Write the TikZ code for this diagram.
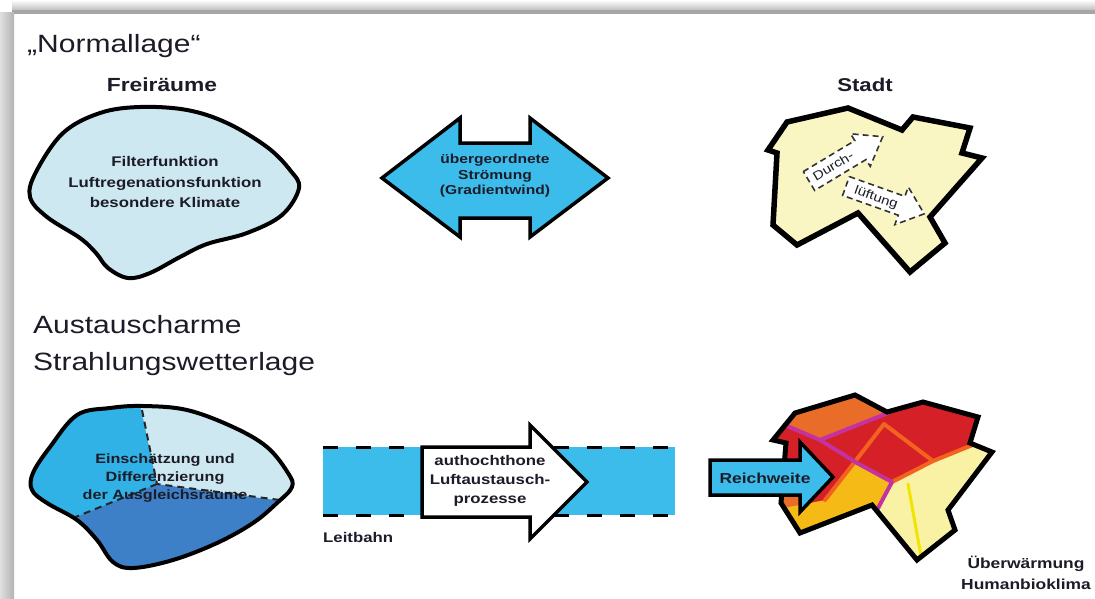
\documentclass[tikz,border=0pt]{standalone}
\usepackage{fontspec}
\setmainfont[FakeStretch=1.2]{Liberation Sans}
\definecolor{ink}{RGB}{28,28,40}
\definecolor{flow}{RGB}{60,188,234}
\definecolor{palecyan}{RGB}{206,232,241}
\definecolor{midblue}{RGB}{48,178,230}
\definecolor{deepblue}{RGB}{62,128,200}
\definecolor{cityyellow}{RGB}{250,246,196}
\definecolor{heatred}{RGB}{212,32,38}
\definecolor{heatorange}{RGB}{233,108,40}
\definecolor{heatgold}{RGB}{246,186,22}
\definecolor{heatpale}{RGB}{249,242,164}
\definecolor{streetorange}{RGB}{244,98,32}
\definecolor{streetmagenta}{RGB}{196,50,160}
\definecolor{streetyellow}{RGB}{240,228,0}

\begin{document}
\begin{tikzpicture}[x=1pt,y=-1pt,
    rim/.style={draw=black,line width=4pt,line join=round},
    outlined/.style={draw=black,line width=3.5pt,line join=miter},
    heading/.style={font=\fontsize{25}{37}\selectfont,text=ink,inner sep=0pt,anchor=base west},
    tag/.style={font=\bfseries\fontsize{14}{19}\selectfont,text=ink,align=center,inner sep=0pt},
    boundary/.style={draw=black!85,dash pattern=on 7pt off 5pt,line width=2pt},
    street/.style={line width=4pt,line cap=round,line join=round},
    airflow/.style={fill=white,draw=black!80,dash pattern=on 6pt off 4pt,line width=1.6pt},
    airtext/.style={text=ink,inner sep=0pt,font=\fontsize{12.5}{12.5}\selectfont}]
  \useasboundingbox (0,0) rectangle (1095,598);
  \fill[white] (0,0) rectangle (1095,598);
  \shade[top color=white,bottom color=gray!55] (12,0) rectangle (1095,11);
  \fill[gray!70] (12,10) rectangle (1095,14);
  \shade[left color=gray!25,right color=gray!60] (0,12) rectangle (14,598);

  \node[heading] (normallage) at (27,52) {„Normallage“};
  \node[tag,font=\bfseries\fontsize{19}{19}\selectfont] (freiraeume) at (162,85) {Freiräume};
  \filldraw[fill=palecyan,rim] plot[smooth cycle,tension=0.6] coordinates {
    (140,107) (187,110) (227,123) (267,147) (290,170) (299,188) (282,215)
    (247,233) (207,244) (180,257) (150,273) (128,278) (108,268) (96,253)
    (80,238) (47,217) (30,197) (36,172) (63,133) (100,113)};
  \node[tag,font=\bfseries\fontsize{14}{20.5}\selectfont] (filter) at (165,182)
    {Filterfunktion\\Luftregenationsfunktion\\besondere Klimate};

  \filldraw[fill=flow,outlined] (382,178) -- (460,118) -- (460,143) -- (530,143) -- (530,118)
    -- (608,178) -- (530,237) -- (530,218) -- (460,218) -- (460,237) -- cycle;
  \node[tag,font=\bfseries\fontsize{13}{15.5}\selectfont] (stroemung) at (495,176)
    {übergeordnete\\Strömung\\(Gradientwind)};

  \node[tag,font=\bfseries\fontsize{18.5}{18.5}\selectfont] (stadt) at (865,85) {Stadt};
  \filldraw[fill=cityyellow,outlined,line width=5.5pt] (787,122) -- (848,108) -- (902,130) -- (913,117)
    -- (970,128) -- (962,153) -- (982,158) -- (930,217) -- (945,243) -- (910,272)
    -- (858,213) -- (797,245) -- (773,225) -- (777,153) -- (768,150) -- cycle;
  \begin{scope}[shift={(809,181)},rotate=31]
    \filldraw[airflow] (0,-11) -- (60,-11) -- (60,-19) -- (86,0) -- (60,19) -- (60,11) -- (0,11) -- cycle;
  \end{scope}
  \begin{scope}[shift={(846,186)},rotate=-19.6]
    \filldraw[airflow] (0,-10) -- (59,-10) -- (59,-20) -- (83,0) -- (59,20) -- (59,10) -- (0,10) -- cycle;
  \end{scope}
  \node[airtext,rotate=31] (durch) at (833,166) {Durch-};
  \node[airtext,rotate=-19.6] (lueftung) at (876,198) {lüftung};

  \node[heading] (austausch) at (33,333) {Austauscharme};
  \node[heading] (strahlung) at (33,370) {Strahlungswetterlage};

  \filldraw[fill=deepblue,rim,path picture={
      \fill[midblue] (0,380) -- (135,380) -- (157,484) -- (0,548) -- cycle;
      \fill[palecyan] (135,380) -- (320,380) -- (320,506) -- (157,484) -- cycle;
      \draw[boundary] (142,410) -- (157,484) -- (280,500) (157,484) -- (73,518);
    }] plot[smooth cycle,tension=0.6] coordinates {
    (77,415) (110,408) (143,406) (187,410) (233,427) (267,447) (288,473)
    (292,487) (277,503) (253,523) (217,543) (173,560) (133,568) (113,562)
    (97,540) (77,520) (47,503) (32,490) (33,473) (50,447)};
  \node[tag,font=\bfseries\fontsize{13.5}{18}\selectfont] (ausgleich) at (165,478)
    {Einschätzung und\\Differenzierung\\der Ausgleichsräume};

  \fill[flow] (323,447) rectangle (675,515);
  \draw[line width=3pt,dash pattern=on 15pt off 18pt] (323,447) -- (675,447) (323,515) -- (675,515);
  \node[anchor=base west,inner sep=0pt,text=ink,font=\bfseries\fontsize{14}{14}\selectfont] (leitbahn) at (323,542) {Leitbahn};
  \filldraw[fill=white,outlined] (422,447) -- (530,447) -- (530,425) -- (587,482) -- (530,539)
    -- (530,517) -- (422,517) -- cycle;
  \node[tag] (luftaustausch) at (490,481) {authochthone\\Luftaustausch-\\prozesse};

  \filldraw[fill=heatred,outlined,line width=5pt,path picture={
      \fill[heatorange] (760,380) -- (888,380) -- (888,415) -- (820,440) -- (790,427) -- (760,425) -- cycle;
      \fill[heatorange] (760,495) -- (815,495) -- (800,506) -- (760,512) -- cycle;
      \fill[heatgold] (855,462) -- (892,482) -- (876,512) -- (870,600) -- (760,600) -- (760,512)
        -- (800,505) -- (825,500) -- cycle;
      \fill[heatpale] (892,482) -- (933,461) -- (1000,432) -- (1000,600) -- (870,600) -- (876,512) -- cycle;
      \draw[street,draw=streetorange] (884,424) -- (850,468) -- (825,500) (884,424) -- (933,461)
        (892,482) -- (933,461) -- (975,444);
      \draw[street,draw=streetmagenta] (780,423) -- (820,440) -- (888,413)
        (820,440) -- (857,463) -- (892,482) -- (876,512);
      \draw[street,draw=streetyellow,line width=3pt] (908,484) -- (921,556);
    }] (795,413) -- (855,395) -- (887,412) -- (923,402) -- (978,417) -- (970,443) -- (992,452)
    -- (948,510) -- (955,530) -- (917,560) -- (872,505) -- (800,533) -- (781,503) -- (786,443)
    -- (773,440) -- cycle;
  \filldraw[fill=flow,outlined] (710,460) -- (800,460) -- (800,442) -- (833,477) -- (800,512)
    -- (800,495) -- (710,495) -- cycle;
  \node[tag,font=\bfseries\fontsize{14.5}{14.5}\selectfont] (reichweite) at (765,478) {Reichweite};
  \node[tag,font=\bfseries\fontsize{14.5}{21}\selectfont] (ueberwaermung) at (1026,573)
    {Überwärmung\\Humanbioklima};
\end{tikzpicture}
\end{document}
